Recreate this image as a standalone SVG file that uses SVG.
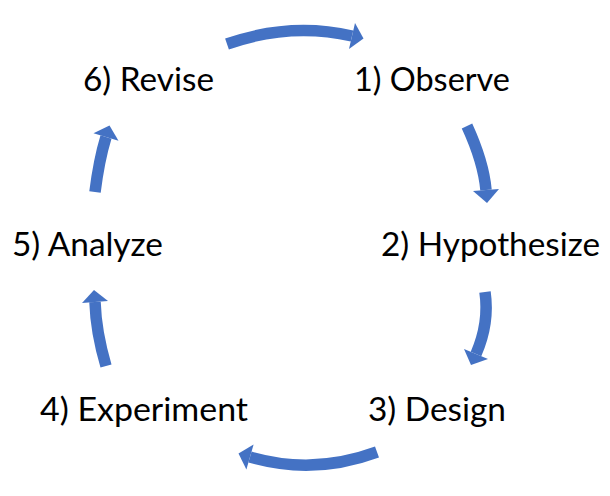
<svg xmlns="http://www.w3.org/2000/svg" width="610" height="496" viewBox="0 0 610 496">
<style>
.t{font-family:Lato,"Liberation Sans",sans-serif;font-size:32px;fill:#000}
.s{fill:none;stroke:#4472C4;stroke-width:11.5}
.h{fill:#4472C4}
</style>
<rect width="610" height="496" fill="#fff"/>
<g id="connectors">
<g id="a61"><path class="s" d="M227,44 Q290,22 352,36"/><polygon class="h" points="355,23 363.5,38.5 349,49"/></g>
<g id="a12"><path class="s" d="M467,126 Q483.5,162 486,190"/><polygon class="h" points="473,191 499,189 487,203"/></g>
<g id="a23"><path class="s" d="M485,292 Q489.5,323 476,354"/><polygon class="h" points="488,359 464,349 471,365"/></g>
<g id="a34"><path class="s" d="M377,452 Q313.5,475.5 250,457"/><polygon class="h" points="253.6,444.5 246.4,469.5 238.5,453.6"/></g>
<g id="a45"><path class="s" d="M106,366 Q96,332 95,302"/><polygon class="h" points="108,301 82,303 94,290"/></g>
<g id="a56"><path class="s" d="M95,192 Q99,160 106,137"/><polygon class="h" points="118.5,140.8 93.5,133.2 109.5,125.5"/></g>
</g>
<g id="n1"><text class="t" x="354" y="91" textLength="156" lengthAdjust="spacingAndGlyphs">1) Observe</text></g>
<g id="n2"><text class="t" x="381" y="256" textLength="219" lengthAdjust="spacingAndGlyphs">2) Hypothesize</text></g>
<g id="n3"><text class="t" x="368" y="421" textLength="138" lengthAdjust="spacingAndGlyphs">3) Design</text></g>
<g id="n4"><text class="t" x="40" y="421" textLength="208" lengthAdjust="spacingAndGlyphs">4) Experiment</text></g>
<g id="n5"><text class="t" x="12" y="256" textLength="151" lengthAdjust="spacingAndGlyphs">5) Analyze</text></g>
<g id="n6"><text class="t" x="83" y="91" textLength="131" lengthAdjust="spacingAndGlyphs">6) Revise</text></g>
</svg>
